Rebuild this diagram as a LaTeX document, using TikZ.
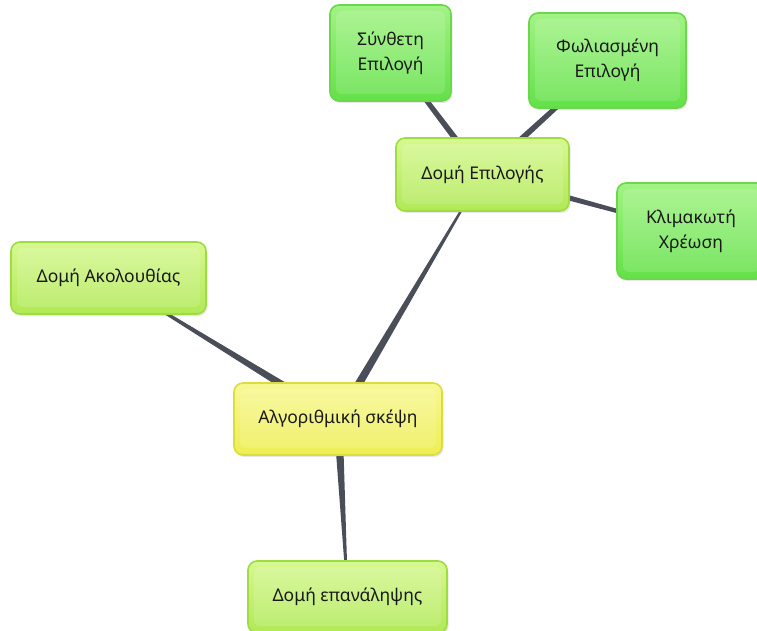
\documentclass[tikz,border=0pt]{standalone}
\usepackage{fontspec}
\setmainfont{Noto Sans}
\usetikzlibrary{calc,backgrounds,shadows}

\definecolor{linkgray}{HTML}{4A4E59}
\definecolor{limeEdge}{HTML}{9EDC42}
\definecolor{limeTop}{HTML}{D6F891}
\definecolor{limeBot}{HTML}{B0E955}
\definecolor{leafEdge}{HTML}{6CD64C}
\definecolor{leafTop}{HTML}{A2F384}
\definecolor{leafBot}{HTML}{62E148}
\definecolor{sunEdge}{HTML}{DCDC3E}
\definecolor{sunTop}{HTML}{F8F894}
\definecolor{sunBot}{HTML}{EEEE52}

\tikzset{
  topic/.style={rectangle, rounded corners=9pt, line width=1.6pt,
    align=center, font=\fontsize{17.5}{25}\selectfont, text=black!90,
    drop shadow={opacity=0.18, shadow xshift=1.5pt, shadow yshift=-2pt},
    path picture={
      \fill[white, opacity=0.14, rounded corners=6pt]
        ($(path picture bounding box.north west)+(6pt,-6pt)$) rectangle
        ($(path picture bounding box.south east)+(-6pt,7pt)$);
    }},
  lime/.style={topic, draw=limeEdge, top color=limeTop, bottom color=limeBot},
  leaf/.style={topic, draw=leafEdge, top color=leafTop, bottom color=leafBot},
  sun/.style={topic, draw=sunEdge, top color=sunTop, bottom color=sunBot},
  conn/.style={fill=linkgray}
}

% tapered branch: from node #1 (width #3) to node #2 (width #4)
\newcommand\branchtaper[4]{%
  \fill[conn] ($(#1.center)!#3!90:(#2.center)$) -- ($(#2.center)!#4!-90:(#1.center)$)
    -- ($(#2.center)!#4!90:(#1.center)$) -- ($(#1.center)!#3!-90:(#2.center)$) -- cycle;}

\begin{document}
\begin{tikzpicture}[x=1pt,y=-1pt]
  \useasboundingbox (0,0) rectangle (757,631);
  \clip (0,0) rectangle (757,631);

  \node[sun,  minimum width=208pt, minimum height=72pt] (alg)  at (338,419)   {Αλγοριθμική σκέψη};
  \node[lime, minimum width=173pt, minimum height=73pt] (sel)  at (482.5,174.5) {Δομή Επιλογής};
  \node[lime, minimum width=195pt, minimum height=72pt] (seq)  at (108.5,278) {Δομή Ακολουθίας};
  \node[lime, minimum width=199pt, minimum height=72pt] (rep)  at (347.5,597) {Δομή επανάληψης};
  \node[leaf, minimum width=121pt, minimum height=96pt] (comp) at (390.5,53)  {Σύνθετη\\Επιλογή};
  \node[leaf, minimum width=157pt, minimum height=95pt] (nest) at (607.5,60.5) {Φωλιασμένη\\Επιλογή};
  \node[leaf, minimum width=148pt, minimum height=96pt] (klim) at (691,231)   {Κλιμακωτή\\Χρέωση};

  \begin{scope}[on background layer]
    \branchtaper{alg}{sel}{4.5pt}{0.6pt}
    \branchtaper{alg}{seq}{4.5pt}{0.6pt}
    \branchtaper{alg}{rep}{4.5pt}{0.6pt}
    \branchtaper{sel}{comp}{3.3pt}{2pt}
    \branchtaper{sel}{nest}{3.3pt}{2pt}
    \branchtaper{sel}{klim}{3.3pt}{1.5pt}
  \end{scope}
\end{tikzpicture}
\end{document}
